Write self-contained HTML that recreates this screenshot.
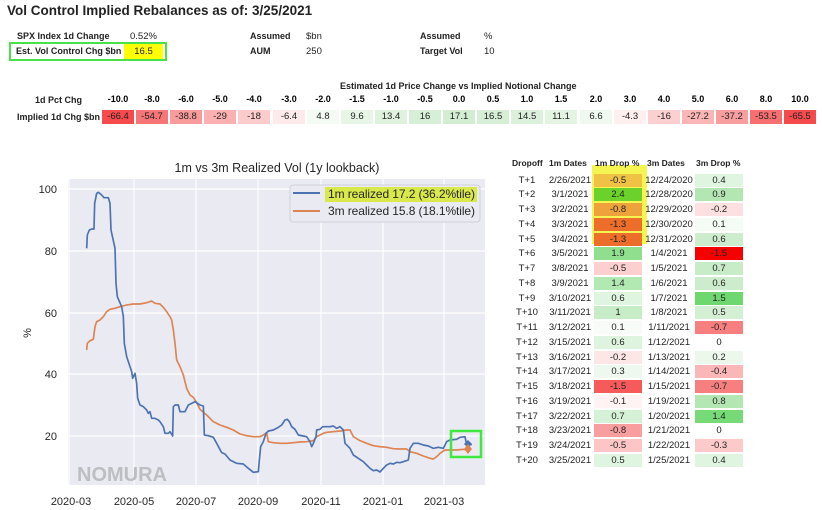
<!DOCTYPE html>
<html><head><meta charset="utf-8"><style>
body{margin:0;width:822px;height:510px;background:#fff;font-family:"Liberation Sans",Arial,sans-serif;position:relative;overflow:hidden}
.a{position:absolute;white-space:nowrap;font-size:9.5px;color:#222}
.b{font-weight:bold;font-size:9px}
.c{position:absolute;width:32px;height:14px;line-height:14px;text-align:center;font-size:9.5px;top:110px;color:#222}
.h{position:absolute;top:94px;width:32px;text-align:center;font-size:9px;font-weight:bold}
.t{position:absolute;font-size:9.5px;height:13px;line-height:13px;text-align:center;color:#222}
</style></head><body>
<div class="a" style="left:7px;top:3px;font-size:13.5px;font-weight:bold">Vol Control Implied Rebalances as of: 3/25/2021</div>
<div class="a b" style="left:17px;top:31px">SPX Index 1d Change</div>
<div class="a" style="left:130px;top:31px">0.52%</div>
<div class="a b" style="left:250px;top:31px">Assumed</div><div class="a" style="left:306px;top:31px">$bn</div>
<div class="a b" style="left:420px;top:31px">Assumed</div><div class="a" style="left:484px;top:31px">%</div>
<div style="position:absolute;left:9px;top:42px;width:154px;height:15px;border:2px solid #4ae24a"></div>
<div style="position:absolute;left:124px;top:44px;width:39px;height:15px;background:#ffff00"></div>
<div class="a b" style="left:16px;top:46px">Est. Vol Control Chg $bn</div>
<div class="a" style="left:124px;width:39px;text-align:center;top:46px">16.5</div>
<div class="a b" style="left:250px;top:46px">AUM</div><div class="a" style="left:306px;top:46px">250</div>
<div class="a b" style="left:420px;top:46px">Target Vol</div><div class="a" style="left:484px;top:46px">10</div>
<div class="a b" style="left:340px;top:81px">Estimated 1d Price Change vs Implied Notional Change</div>
<div class="a b" style="left:35px;top:95px">1d Pct Chg</div>
<div class="a b" style="left:17px;top:112px">Implied 1d Chg $bn</div>
<div class="h" style="left:102px">-10.0</div><div class="h" style="left:136px">-8.0</div><div class="h" style="left:170px">-6.0</div><div class="h" style="left:204px">-5.0</div><div class="h" style="left:238px">-4.0</div><div class="h" style="left:273px">-3.0</div><div class="h" style="left:307px">-2.0</div><div class="h" style="left:341px">-1.5</div><div class="h" style="left:375px">-1.0</div><div class="h" style="left:409px">-0.5</div><div class="h" style="left:443px">0.0</div><div class="h" style="left:477px">0.5</div><div class="h" style="left:511px">1.0</div><div class="h" style="left:545px">1.5</div><div class="h" style="left:580px">2.0</div><div class="h" style="left:614px">3.0</div><div class="h" style="left:648px">4.0</div><div class="h" style="left:682px">5.0</div><div class="h" style="left:716px">6.0</div><div class="h" style="left:750px">8.0</div><div class="h" style="left:784px">10.0</div>
<div class="c" style="left:102px;background:#f64a4c">-66.4</div><div class="c" style="left:136px;background:#f77577">-54.7</div><div class="c" style="left:170px;background:#f99a9b">-38.8</div><div class="c" style="left:204px;background:#fbb1b2">-29</div><div class="c" style="left:238px;background:#fccbcc">-18</div><div class="c" style="left:273px;background:#feeaea">-6.4</div><div class="c" style="left:307px;background:#f4fbf4">4.8</div><div class="c" style="left:341px;background:#e7f6e7">9.6</div><div class="c" style="left:375px;background:#def2de">13.4</div><div class="c" style="left:409px;background:#d7efd7">16</div><div class="c" style="left:443px;background:#d3edd3">17.1</div><div class="c" style="left:477px;background:#d5eed5">16.5</div><div class="c" style="left:511px;background:#dbf1db">14.5</div><div class="c" style="left:545px;background:#e3f4e3">11.1</div><div class="c" style="left:580px;background:#eff9ef">6.6</div><div class="c" style="left:614px;background:#fff0f0">-4.3</div><div class="c" style="left:648px;background:#fcd0d1">-16</div><div class="c" style="left:682px;background:#fbb5b6">-27.2</div><div class="c" style="left:716px;background:#f99e9f">-37.2</div><div class="c" style="left:750px;background:#f76f71">-53.5</div><div class="c" style="left:784px;background:#f54b4d">-65.5</div>

<svg style="position:absolute;left:0;top:0" width="822" height="510">
<rect x="68" y="179" width="417" height="306" fill="#eaeaf2"/>
<g stroke="#fff" stroke-width="1.2">
<line x1="68" x2="485" y1="189" y2="189"/><line x1="68" x2="485" y1="251" y2="251"/><line x1="68" x2="485" y1="313" y2="313"/><line x1="68" x2="485" y1="374" y2="374"/><line x1="68" x2="485" y1="436" y2="436"/>
<line y1="179" y2="485" x1="69" x2="69"/><line y1="179" y2="485" x1="134" x2="134"/><line y1="179" y2="485" x1="196" x2="196"/><line y1="179" y2="485" x1="258" x2="258"/><line y1="179" y2="485" x1="321" x2="321"/><line y1="179" y2="485" x1="383" x2="383"/><line y1="179" y2="485" x1="444" x2="444"/>
</g>
<text x="77" y="481" font-family="Liberation Sans" font-weight="bold" font-size="20" fill="#bdbdc2">NOMURA</text>
<g transform="translate(0,150) scale(0.33333)" fill="none" stroke-width="5" stroke-linejoin="round">
<polyline stroke="#dd8452" points="260,600 262,580 270,572 280,568 285,530 290,515 300,510 310,500 320,485 330,478 345,475 360,470 380,465 400,462 420,462 440,458 455,453 465,460 480,462 490,472 500,485 510,500 515,510 520,540 525,580 530,630 540,650 550,675 560,715 570,735 580,742 590,758 600,778 620,795 640,815 660,825 680,832 700,840 720,852 740,857 760,860 780,860 790,855 800,848 805,875 820,878 840,880 860,880 880,878 900,876 920,875 940,872 950,860 960,855 970,850 980,847 1000,845 1020,843 1040,840 1050,840 1060,860 1080,872 1100,880 1120,887 1140,890 1160,892 1180,896 1200,897 1220,897 1230,905 1250,910 1270,918 1290,925 1300,927 1310,920 1320,910 1335,900 1350,900 1370,900 1390,898 1405,900"/>
<polyline stroke="#4c72b0" points="260,295 262,255 268,240 275,237 282,237 284,160 290,130 295,127 305,135 312,143 325,143 330,160 333,240 345,295 348,400 352,440 365,470 370,500 373,580 380,620 390,650 395,665 398,685 405,670 410,700 413,745 420,765 430,770 440,780 445,790 450,785 455,805 465,805 475,810 480,815 490,830 495,850 505,850 510,845 518,858 520,770 525,765 535,765 540,785 555,785 565,765 575,760 585,755 600,765 610,768 613,855 625,857 640,862 650,880 665,908 675,912 690,930 710,940 730,942 745,955 760,967 775,965 778,930 782,890 790,875 798,850 805,843 820,840 835,832 845,825 855,810 862,808 868,815 875,830 885,838 895,855 910,858 920,860 930,875 935,890 940,880 948,860 950,840 960,838 968,830 980,830 990,830 1000,828 1010,835 1020,830 1030,840 1035,880 1050,895 1060,915 1075,925 1090,935 1100,945 1110,955 1120,962 1130,960 1140,966 1150,955 1160,945 1170,940 1180,942 1190,937 1200,938 1210,935 1225,930 1230,895 1240,880 1255,880 1270,885 1285,888 1300,895 1315,892 1330,895 1340,875 1350,870 1370,868 1380,862 1395,860 1400,885 1410,880 1415,885"/>
</g>
<polygon points="468,440 472,444 468,448 464,444" fill="#4c72b0"/>
<polygon points="468,444 472,449 468,454 464,449" fill="#dd8452"/>
<rect x="451" y="431" width="30" height="26" fill="none" stroke="#3ee83e" stroke-width="2.5"/>
<rect x="290" y="185" width="190" height="37" rx="3" fill="#eaeaf2" stroke="#d0d0d8"/>
<rect x="325" y="187" width="152" height="15" fill="#d9e84a"/>
<line x1="293" x2="320" y1="193" y2="193" stroke="#4c72b0" stroke-width="2"/>
<line x1="293" x2="320" y1="211" y2="211" stroke="#dd8452" stroke-width="2"/>
<g font-family="Liberation Sans" font-size="12" fill="#262626">
<text x="328" y="198" textLength="147">1m realized 17.2 (36.2%tile)</text>
<text x="328" y="215" textLength="147">3m realized 15.8 (18.1%tile)</text>
<text x="277" y="172" text-anchor="middle" font-size="12.5">1m vs 3m Realized Vol (1y lookback)</text>
<g text-anchor="end" font-size="11"><text x="57" y="193">100</text><text x="57" y="255">80</text><text x="57" y="317">60</text><text x="57" y="378">40</text><text x="57" y="440">20</text></g>
<text transform="translate(31,333) rotate(-90)" text-anchor="middle" font-size="11">%</text>
<g text-anchor="middle" font-size="11"><text x="71" y="505">2020-03</text><text x="134" y="505">2020-05</text><text x="196" y="505">2020-07</text><text x="258" y="505">2020-09</text><text x="321" y="505">2020-11</text><text x="383" y="505">2021-01</text><text x="444" y="505">2021-03</text></g>
</g>
</svg>

<div style="position:absolute;left:592px;top:165px;width:55px;height:79px;background:#f4f550"></div>
<div class="a b" style="left:512px;top:158px;font-size:8.5px">Dropoff</div><div class="a b" style="left:549px;top:158px;font-size:8.5px">1m Dates</div><div class="a b" style="left:595px;top:158px;font-size:8.5px">1m Drop %</div><div class="a b" style="left:647px;top:158px;font-size:8.5px">3m Dates</div><div class="a b" style="left:696px;top:158px;font-size:8.5px">3m Drop %</div>

<div class="t" style="left:507px;width:40px;top:174px">T+1</div><div class="t" style="left:547px;width:46px;top:174px">2/26/2021</div><div class="t" style="left:594px;width:48px;top:174px;background:#efc246">-0.5</div><div class="t" style="left:645px;width:48px;top:174px">12/24/2020</div><div class="t" style="left:695px;width:48px;top:174px;background:#e0f5e0">0.4</div>
<div class="t" style="left:507px;width:40px;top:188px">T+2</div><div class="t" style="left:547px;width:46px;top:188px">3/1/2021</div><div class="t" style="left:594px;width:48px;top:188px;background:#6ad22a">2.4</div><div class="t" style="left:645px;width:48px;top:188px">12/28/2020</div><div class="t" style="left:695px;width:48px;top:188px;background:#b4e6b4">0.9</div>
<div class="t" style="left:507px;width:40px;top:203px">T+3</div><div class="t" style="left:547px;width:46px;top:203px">3/2/2021</div><div class="t" style="left:594px;width:48px;top:203px;background:#eea23c">-0.8</div><div class="t" style="left:645px;width:48px;top:203px">12/29/2020</div><div class="t" style="left:695px;width:48px;top:203px;background:#fde0e0">-0.2</div>
<div class="t" style="left:507px;width:40px;top:218px">T+4</div><div class="t" style="left:547px;width:46px;top:218px">3/3/2021</div><div class="t" style="left:594px;width:48px;top:218px;background:#ec6e2a">-1.3</div><div class="t" style="left:645px;width:48px;top:218px">12/30/2020</div><div class="t" style="left:695px;width:48px;top:218px;background:#f5fbf5">0.1</div>
<div class="t" style="left:507px;width:40px;top:233px">T+5</div><div class="t" style="left:547px;width:46px;top:233px">3/4/2021</div><div class="t" style="left:594px;width:48px;top:233px;background:#ec6e2a">-1.3</div><div class="t" style="left:645px;width:48px;top:233px">12/31/2020</div><div class="t" style="left:695px;width:48px;top:233px;background:#cdeccd">0.6</div>
<div class="t" style="left:507px;width:40px;top:247px">T+6</div><div class="t" style="left:547px;width:46px;top:247px">3/5/2021</div><div class="t" style="left:594px;width:48px;top:247px;background:#8fdf8f">1.9</div><div class="t" style="left:645px;width:48px;top:247px">1/4/2021</div><div class="t" style="left:695px;width:48px;top:247px;background:#f70000">-1.5</div>
<div class="t" style="left:507px;width:40px;top:262px">T+7</div><div class="t" style="left:547px;width:46px;top:262px">3/8/2021</div><div class="t" style="left:594px;width:48px;top:262px;background:#fdcfcf">-0.5</div><div class="t" style="left:645px;width:48px;top:262px">1/5/2021</div><div class="t" style="left:695px;width:48px;top:262px;background:#c8ebc8">0.7</div>
<div class="t" style="left:507px;width:40px;top:277px">T+8</div><div class="t" style="left:547px;width:46px;top:277px">3/9/2021</div><div class="t" style="left:594px;width:48px;top:277px;background:#b2e8b2">1.4</div><div class="t" style="left:645px;width:48px;top:277px">1/6/2021</div><div class="t" style="left:695px;width:48px;top:277px;background:#cdeccd">0.6</div>
<div class="t" style="left:507px;width:40px;top:292px">T+9</div><div class="t" style="left:547px;width:46px;top:292px">3/10/2021</div><div class="t" style="left:594px;width:48px;top:292px;background:#e0f5e0">0.6</div><div class="t" style="left:645px;width:48px;top:292px">1/7/2021</div><div class="t" style="left:695px;width:48px;top:292px;background:#6fd76f">1.5</div>
<div class="t" style="left:507px;width:40px;top:306px">T+10</div><div class="t" style="left:547px;width:46px;top:306px">3/11/2021</div><div class="t" style="left:594px;width:48px;top:306px;background:#c6edc6">1</div><div class="t" style="left:645px;width:48px;top:306px">1/8/2021</div><div class="t" style="left:695px;width:48px;top:306px;background:#d5efd5">0.5</div>
<div class="t" style="left:507px;width:40px;top:321px">T+11</div><div class="t" style="left:547px;width:46px;top:321px">3/12/2021</div><div class="t" style="left:594px;width:48px;top:321px;background:#f8fcf8">0.1</div><div class="t" style="left:645px;width:48px;top:321px">1/11/2021</div><div class="t" style="left:695px;width:48px;top:321px;background:#f77f80">-0.7</div>
<div class="t" style="left:507px;width:40px;top:336px">T+12</div><div class="t" style="left:547px;width:46px;top:336px">3/15/2021</div><div class="t" style="left:594px;width:48px;top:336px;background:#def4de">0.6</div><div class="t" style="left:645px;width:48px;top:336px">1/12/2021</div><div class="t" style="left:695px;width:48px;top:336px">0</div>
<div class="t" style="left:507px;width:40px;top:351px">T+13</div><div class="t" style="left:547px;width:46px;top:351px">3/16/2021</div><div class="t" style="left:594px;width:48px;top:351px;background:#fde6e6">-0.2</div><div class="t" style="left:645px;width:48px;top:351px">1/13/2021</div><div class="t" style="left:695px;width:48px;top:351px;background:#edf8ed">0.2</div>
<div class="t" style="left:507px;width:40px;top:365px">T+14</div><div class="t" style="left:547px;width:46px;top:365px">3/17/2021</div><div class="t" style="left:594px;width:48px;top:365px;background:#eef8ee">0.3</div><div class="t" style="left:645px;width:48px;top:365px">1/14/2021</div><div class="t" style="left:695px;width:48px;top:365px;background:#fbb7b8">-0.4</div>
<div class="t" style="left:507px;width:40px;top:380px">T+15</div><div class="t" style="left:547px;width:46px;top:380px">3/18/2021</div><div class="t" style="left:594px;width:48px;top:380px;background:#f75a5b">-1.5</div><div class="t" style="left:645px;width:48px;top:380px">1/15/2021</div><div class="t" style="left:695px;width:48px;top:380px;background:#f77f80">-0.7</div>
<div class="t" style="left:507px;width:40px;top:395px">T+16</div><div class="t" style="left:547px;width:46px;top:395px">3/19/2021</div><div class="t" style="left:594px;width:48px;top:395px;background:#fff3f3">-0.1</div><div class="t" style="left:645px;width:48px;top:395px">1/19/2021</div><div class="t" style="left:695px;width:48px;top:395px;background:#b4e6b4">0.8</div>
<div class="t" style="left:507px;width:40px;top:410px">T+17</div><div class="t" style="left:547px;width:46px;top:410px">3/22/2021</div><div class="t" style="left:594px;width:48px;top:410px;background:#d6f2d6">0.7</div><div class="t" style="left:645px;width:48px;top:410px">1/20/2021</div><div class="t" style="left:695px;width:48px;top:410px;background:#76da76">1.4</div>
<div class="t" style="left:507px;width:40px;top:424px">T+18</div><div class="t" style="left:547px;width:46px;top:424px">3/23/2021</div><div class="t" style="left:594px;width:48px;top:424px;background:#f99e9f">-0.8</div><div class="t" style="left:645px;width:48px;top:424px">1/21/2021</div><div class="t" style="left:695px;width:48px;top:424px">0</div>
<div class="t" style="left:507px;width:40px;top:439px">T+19</div><div class="t" style="left:547px;width:46px;top:439px">3/24/2021</div><div class="t" style="left:594px;width:48px;top:439px;background:#fcc6c6">-0.5</div><div class="t" style="left:645px;width:48px;top:439px">1/22/2021</div><div class="t" style="left:695px;width:48px;top:439px;background:#fccaca">-0.3</div>
<div class="t" style="left:507px;width:40px;top:454px">T+20</div><div class="t" style="left:547px;width:46px;top:454px">3/25/2021</div><div class="t" style="left:594px;width:48px;top:454px;background:#e0f5e0">0.5</div><div class="t" style="left:645px;width:48px;top:454px">1/25/2021</div><div class="t" style="left:695px;width:48px;top:454px;background:#e0f5e0">0.4</div>
</body></html>
